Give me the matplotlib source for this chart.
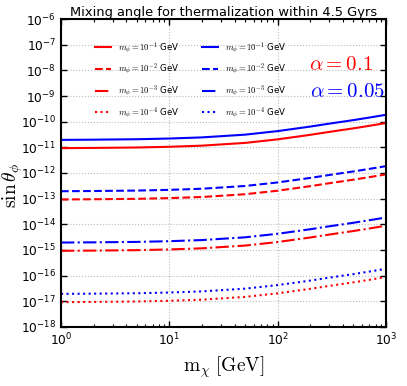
import matplotlib
matplotlib.use("Agg")
import matplotlib.pyplot as plt
import matplotlib.ticker as mticker
import numpy as np

plt.rcParams['mathtext.fontset'] = 'cm'
plt.rcParams['font.family'] = ['DejaVu Sans']

m_chi = [1, 2, 5, 10, 20, 50, 100, 200, 300, 500, 700, 1000]
shape = [1.0, 1.02, 1.06, 1.13, 1.25, 1.6, 2.2, 3.3, 4.3, 5.9, 7.4, 9.5]
base_red = [0.93e-11, 0.93e-13, 0.93e-15, 0.93e-17]
base_blue = [1.95e-11, 1.95e-13, 1.95e-15, 1.95e-17]
mphi_exp = [-1, -2, -3, -4]
styles = ['-', '--', '-.', ':']

fig = plt.figure(figsize=(4.07, 3.86), dpi=100)
ax = fig.add_axes([61/407, 1-327/386, 325/407, 308/386])

red_lines, blue_lines = [], []
for b, e, ls in zip(base_red, mphi_exp, styles):
    l, = ax.plot(m_chi, [b*s for s in shape], color='red', ls=ls, lw=1.5,
                 label=r'$m_\phi=10^{%d}$ GeV' % e)
    red_lines.append(l)
for b, e, ls in zip(base_blue, mphi_exp, styles):
    l, = ax.plot(m_chi, [b*s for s in shape], color='blue', ls=ls, lw=1.5,
                 label=r'$m_\phi=10^{%d}$ GeV' % e)
    blue_lines.append(l)

ax.set_xscale('log')
ax.set_yscale('log')
ax.set_xlim(1, 1000)
ax.set_ylim(1e-18, 1e-6)
ax.yaxis.set_major_locator(mticker.LogLocator(base=10, numticks=20))
ax.yaxis.set_minor_locator(mticker.NullLocator())
fmt = mticker.FuncFormatter(lambda v, p: r'$\mathregular{10^{%d}}$' % int(round(np.log10(v))))
ax.xaxis.set_major_formatter(fmt)
ax.yaxis.set_major_formatter(fmt)
ax.tick_params(which='both', direction='in', top=True, right=True, labelsize=8.8)
ax.tick_params(which='major', length=4, width=1)
ax.tick_params(which='minor', length=2, width=0.8)
for s in ax.spines.values():
    s.set_linewidth(1.5)
ax.grid(True, which='major', ls=':', color='#bbbbbb', lw=0.8)

ax.set_title('Mixing angle for thermalization within 4.5 Gyrs', fontsize=9.4, pad=2)
ax.set_ylabel(r'$\sin\theta_\phi$', fontsize=14)
ax.yaxis.set_label_coords(-0.112, 0.46)
ax.set_xlabel(r'$\mathrm{m}_\chi\ [\mathrm{GeV}]$', fontsize=14)

leg1 = ax.legend(handles=red_lines, loc='upper left', bbox_to_anchor=(0.08, 0.955),
                 frameon=False, fontsize=6.2, handlelength=1.9, labelspacing=0.75)
ax.add_artist(leg1)
ax.legend(handles=blue_lines, loc='upper left', bbox_to_anchor=(0.41, 0.955),
          frameon=False, fontsize=6.2, handlelength=1.9, labelspacing=0.75)

ax.text(0.96, 0.855, r'$\alpha=0.1$', color='red', fontsize=15, ha='right', va='center', transform=ax.transAxes)
ax.text(0.995, 0.765, r'$\alpha=0.05$', color='blue', fontsize=15, ha='right', va='center', transform=ax.transAxes)

fig.savefig('out.png', dpi=100)
